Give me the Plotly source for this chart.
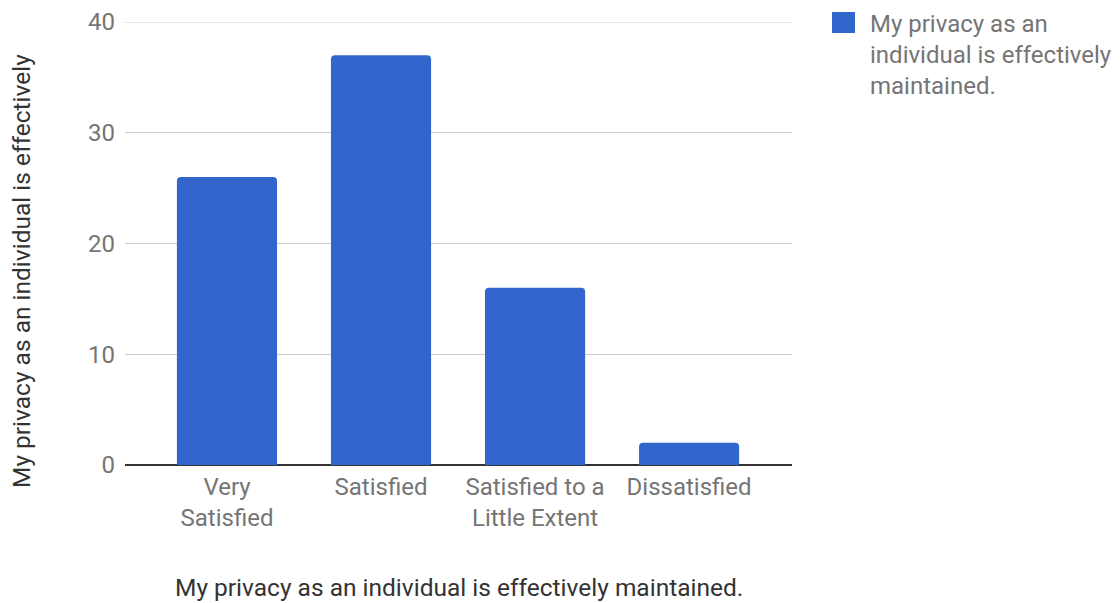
import plotly.graph_objects as go

categories = ["Very<br>Satisfied", "Satisfied", "Satisfied to a<br>Little Extent", "Dissatisfied"]
values = [26, 37, 16, 2]
series_name = "My privacy as an<br>individual is effectively<br>maintained."
x_title = "My privacy as an individual is effectively maintained."
y_title = "My privacy as an individual is effectively"
y_ticks = [0, 10, 20, 30, 40]

BLUE = "#3366CC"
FONT = "Roboto"
FS = 24
TS = 24.5

# page has an 8px body margin; compensate so plot area lands at x 125..792, y 22..465
fig = go.Figure()
fig.add_trace(go.Bar(
    x=list(range(len(categories))), y=values, name=series_name,
    marker=dict(color=BLUE, cornerradius=4, line=dict(width=0)),
    width=0.65, showlegend=False,
))

fig.update_layout(
    width=1120, height=603,
    margin=dict(l=117, r=336, t=14, b=146),
    plot_bgcolor="white", paper_bgcolor="white",
    font=dict(family=FONT, size=FS, color="#757575"),
    xaxis=dict(
        range=[-0.662, 3.668], tickmode="array",
        tickvals=list(range(len(categories))), ticktext=categories,
        showgrid=False, zeroline=False, showline=False, ticks="",
        tickfont=dict(size=FS, color="#757575"), ticklabelstandoff=5,
        automargin=False,
    ),
    yaxis=dict(
        range=[0, y_ticks[-1]], tickvals=y_ticks, showgrid=True, gridcolor="#cccccc",
        gridwidth=1, zeroline=True, zerolinecolor="#333333", zerolinewidth=1.5,
        showline=False, ticks="", ticklabelstandoff=9,
        tickfont=dict(size=FS, color="#757575"), automargin=False,
    ),
)

# top gridline (plotly omits the gridline at the range edge)
fig.add_hline(y=y_ticks[-1], line=dict(color="#cccccc", width=1), layer="below")

# x axis title
fig.add_annotation(text=x_title, xref="paper", yref="paper", x=0.5, y=0,
                   yshift=-122, showarrow=False, xanchor="center", yanchor="middle",
                   font=dict(size=TS, color="#333333"))
# y axis title (truncated as in source)
fig.add_annotation(text=y_title, xref="paper", yref="paper", x=0, xshift=-104,
                   y=(465 - 271) / 443, showarrow=False, textangle=-90, xanchor="center",
                   yanchor="middle", font=dict(size=TS, color="#333333"))

# legend
fig.add_shape(type="rect", xref="paper", yref="paper",
              x0=1 + 40/667, x1=1 + 63/667, y0=1 - (33-22)/443, y1=1 - (12-22)/443,
              fillcolor=BLUE, line=dict(width=0), layer="above")
fig.add_annotation(text=series_name, xref="paper", yref="paper",
                   x=1 + 76/667, y=1 + 14/443, xanchor="left", yanchor="top",
                   align="left", showarrow=False,
                   font=dict(size=FS, color="#757575"))

fig.write_html("out.html")
